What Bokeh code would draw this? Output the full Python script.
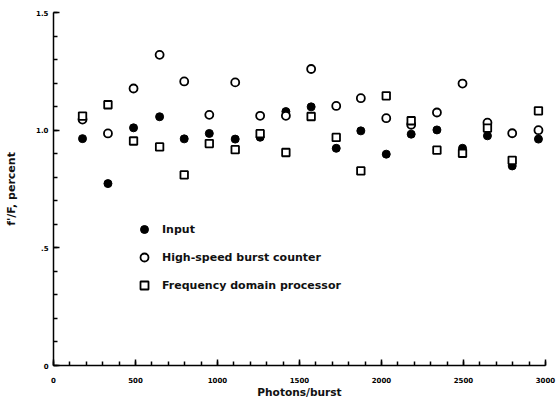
from bokeh.plotting import figure
from bokeh.models import Range1d, SingleIntervalTicker, CustomJSTickFormatter, Legend, LegendItem
from bokeh.embed import file_html
from bokeh.resources import INLINE

# Photons per burst (x positions of the measurement groups)
photons = [177, 332, 488, 647, 797, 950, 1108, 1260, 1417, 1571,
           1724, 1874, 2029, 2181, 2338, 2494, 2646, 2797, 2957]
# f'/F values
input_vals = [0.964, 0.773, 1.010, 1.057, 0.963, 0.986, 0.962, 0.970, 1.079, 1.099,
              0.923, 0.997, 0.898, 0.983, 1.001, 0.923, 0.976, 0.848, 0.962]
burst_counter = [1.045, 0.986, 1.177, 1.320, 1.207, 1.065, 1.203, 1.061, 1.061, 1.260,
                 1.103, 1.136, 1.051, 1.023, 1.075, 1.198, 1.032, 0.987, 1.000]
freq_domain = [1.060, 1.108, 0.954, 0.929, 0.810, 0.943, 0.917, 0.985, 0.905, 1.058,
               0.969, 0.827, 1.146, 1.040, 0.915, 0.902, 1.009, 0.872, 1.082]

series_labels = ["Input", "High-speed burst counter", "Frequency domain processor"]

FONT = "DejaVu Sans"

p = figure(width=557, height=407, output_backend="svg", toolbar_location=None,
           x_range=Range1d(0, 3000), y_range=Range1d(0, 1.5),
           min_border_left=53, min_border_right=12, min_border_top=12, min_border_bottom=42)
p.outline_line_color = None
p.grid.visible = False
p.background_fill_color = "white"
p.border_fill_color = "white"

r1 = p.scatter(photons, input_vals, marker="circle", size=8,
               fill_color="black", line_color="black", line_width=1)
r2 = p.scatter(photons, burst_counter, marker="circle", size=8,
               fill_color="white", line_color="black", line_width=1.8)
r3 = p.scatter(photons, freq_domain, marker="square", size=7.5,
               fill_color="white", line_color="black", line_width=1.8)

legend = Legend(items=[LegendItem(label=series_labels[0], renderers=[r1]),
                       LegendItem(label=series_labels[1], renderers=[r2]),
                       LegendItem(label=series_labels[2], renderers=[r3])],
                location=(81, 70), padding=0, margin=0, spacing=8,
                glyph_width=20, glyph_height=20, label_height=20, label_standoff=8,
                border_line_alpha=0, background_fill_alpha=0,
                label_text_font=FONT, label_text_font_size="11px",
                label_text_font_style="bold", label_text_color="#111111")
p.add_layout(legend)

xa = p.xaxis[0]
xa.ticker = SingleIntervalTicker(interval=500, num_minor_ticks=5)
xa.axis_label = "Photons/burst"
ya = p.yaxis[0]
ya.ticker = SingleIntervalTicker(interval=0.5, num_minor_ticks=5)
ya.formatter = CustomJSTickFormatter(code="""
    if (Math.abs(tick) < 1e-9) return '0';
    if (tick < 0.99) return '.5';
    return tick.toFixed(1);
""")
ya.axis_label = "f'/F, percent"

for ax in (xa, ya):
    ax.axis_line_width = 1.5
    ax.axis_line_color = "black"
    ax.major_tick_in = 6
    ax.major_tick_out = 0
    ax.minor_tick_in = 4
    ax.minor_tick_out = 0
    ax.major_tick_line_width = 1.5
    ax.minor_tick_line_width = 1.5
    ax.major_tick_line_color = "black"
    ax.minor_tick_line_color = "black"
    ax.major_label_text_font = FONT
    ax.major_label_text_font_size = "7px"
    ax.major_label_text_font_style = "bold"
    ax.major_label_text_color = "black"
    ax.axis_label_text_font = FONT
    ax.axis_label_text_font_style = "bold"
    ax.axis_label_text_color = "#111111"

xa.axis_label_text_font_size = "10.6px"
ya.axis_label_text_font_size = "11px"
xa.major_label_standoff = 11
xa.axis_label_standoff = 0
ya.major_label_standoff = 5
ya.axis_label_standoff = 15

open("out.html", "w").write(file_html(p, INLINE))
